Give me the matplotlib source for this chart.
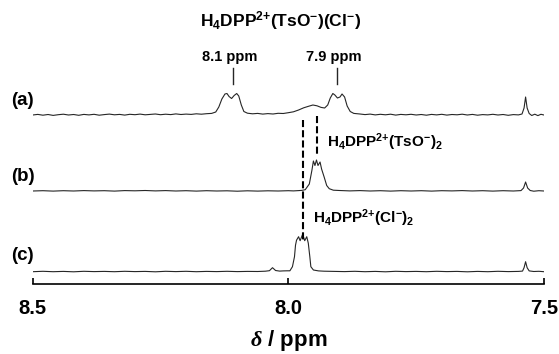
import matplotlib
matplotlib.use("Agg")
import matplotlib.pyplot as plt

plt.rcParams["font.family"] = ["Liberation Sans", "DejaVu Sans"]
plt.rcParams["font.weight"] = "bold"
plt.rcParams["mathtext.fontset"] = "custom"
plt.rcParams["mathtext.rm"] = "Liberation Sans:bold"
plt.rcParams["mathtext.bf"] = "Liberation Sans:bold"
plt.rcParams["mathtext.it"] = "Liberation Serif:italic:bold"
plt.rcParams["mathtext.default"] = "bf"

# spectrum (a): H4DPP2+(TsO-)(Cl-)
a_ppm = [8.500, 8.490, 8.480, 8.470, 8.460, 8.450, 8.440, 8.430, 8.420, 8.410,
         8.400, 8.390, 8.380, 8.370, 8.360, 8.350, 8.340, 8.330, 8.320, 8.310,
         8.300, 8.290, 8.280, 8.270, 8.260, 8.250, 8.240, 8.230, 8.220, 8.210,
         8.200, 8.190, 8.180, 8.170, 8.160, 8.150, 8.142, 8.136, 8.130, 8.124,
         8.120, 8.116, 8.111, 8.106, 8.101, 8.097, 8.092, 8.087, 8.080, 8.070,
         8.060, 8.050, 8.040, 8.030, 8.020, 8.010, 8.000, 7.990, 7.980, 7.970,
         7.960, 7.952, 7.944, 7.936, 7.929, 7.923, 7.918, 7.913, 7.909, 7.904,
         7.899, 7.895, 7.890, 7.885, 7.879, 7.872, 7.860, 7.850, 7.840, 7.830,
         7.820, 7.810, 7.800, 7.790, 7.780, 7.770, 7.760, 7.750, 7.740, 7.730,
         7.720, 7.710, 7.700, 7.690, 7.680, 7.670, 7.660, 7.650, 7.640, 7.630,
         7.620, 7.610, 7.600, 7.590, 7.580, 7.570, 7.560, 7.550, 7.543, 7.539,
         7.536, 7.533, 7.529, 7.524, 7.518, 7.512, 7.506, 7.500]
a_int = [0.0, 0.6, -0.2, 0.5, -0.4, 0.3, 0.8, 0.0, 0.5, -0.3,
         0.6, 0.1, 0.7, -0.2, 0.4, 0.9, 0.2, 0.6, -0.1, 0.7,
         0.3, 0.9, 0.2, 0.6, 1.0, 0.3, 0.8, 0.4, 1.1, 0.5,
         0.9, 0.6, 1.2, 0.8, 1.3, 1.6, 3.0, 8.0, 16.0, 21.0,
         21.5, 18.5, 16.5, 19.5, 21.5, 19.0, 10.0, 3.5, 1.8, 1.2,
         1.6, 0.9, 1.4, 1.0, 1.7, 1.5, 2.3, 3.2, 5.0, 7.2,
         8.8, 10.0, 9.2, 7.6, 7.0, 10.0, 17.0, 21.5, 20.0, 17.0,
         18.0, 21.0, 18.0, 9.0, 3.5, 1.6, 1.0, 0.4, 0.9, 0.1,
         0.7, 0.2, 0.8, -0.1, 0.6, 0.2, 0.7, 0.0, 0.5, -0.2,
         0.6, 0.1, 0.7, -0.1, 0.5, 0.2, 0.8, 0.0, 0.6, -0.2,
         0.4, 0.1, 0.7, 0.0, 0.5, -0.3, 0.4, 0.1, 1.0, 7.0,
         18.0, 7.0, 1.5, -0.5, 0.8, -0.6, 0.7, 0.0]

# spectrum (b): H4DPP2+(TsO-)2
b_ppm = [8.50, 8.48, 8.46, 8.44, 8.42, 8.40, 8.38, 8.36, 8.34, 8.32,
         8.30, 8.28, 8.26, 8.24, 8.22, 8.20, 8.18, 8.16, 8.14, 8.12,
         8.10, 8.08, 8.06, 8.04, 8.02, 8.00, 7.99, 7.98, 7.974, 7.967,
         7.959, 7.954, 7.951, 7.948, 7.945, 7.942, 7.938, 7.935, 7.930, 7.925,
         7.920, 7.912, 7.90, 7.88, 7.86, 7.84, 7.82, 7.80, 7.78, 7.76,
         7.74, 7.72, 7.70, 7.68, 7.66, 7.64, 7.62, 7.60, 7.58, 7.56,
         7.545, 7.540, 7.536, 7.532, 7.527, 7.52, 7.51, 7.50]
b_int = [0.0, 0.3, -0.1, 0.3, 0.0, 0.4, 0.1, 0.3, -0.1, 0.4,
         0.2, 0.5, 0.1, 0.4, 0.0, 0.3, -0.1, 0.3, 0.0, 0.2,
         -0.2, 0.2, -0.1, 0.2, 0.0, 0.3, 0.1, 0.4, 0.6, 1.3,
         7.0, 20.5, 30.0, 25.5, 31.0, 25.5, 29.0, 22.0, 14.0, 5.5,
         2.3, 0.8, 0.5, 0.1, 0.4, 0.0, 0.3, -0.1, 0.3, 0.0,
         0.3, -0.1, 0.3, 0.1, 0.4, 0.0, 0.3, -0.1, 0.3, 0.0,
         0.4, 3.0, 9.0, 3.0, 0.5, -0.2, 0.3, 0.0]

# spectrum (c): H4DPP2+(Cl-)2
c_ppm = [8.50, 8.48, 8.46, 8.44, 8.42, 8.40, 8.38, 8.36, 8.34, 8.32,
         8.30, 8.28, 8.26, 8.24, 8.22, 8.20, 8.18, 8.16, 8.14, 8.12,
         8.10, 8.08, 8.06, 8.045, 8.037, 8.031, 8.025, 8.017, 8.010, 8.002,
         7.997, 7.992, 7.988, 7.986, 7.984, 7.980, 7.977, 7.972, 7.968, 7.964,
         7.961, 7.958, 7.956, 7.951, 7.941, 7.93, 7.91, 7.89, 7.87, 7.85,
         7.83, 7.81, 7.79, 7.77, 7.75, 7.73, 7.71, 7.69, 7.67, 7.65,
         7.63, 7.61, 7.59, 7.57, 7.55, 7.542, 7.539, 7.536, 7.533, 7.529,
         7.52, 7.51, 7.50]
c_int = [0.0, 0.4, 0.0, 0.3, -0.1, 0.4, 0.1, 0.3, 0.0, 0.4,
         0.1, 0.3, -0.1, 0.4, 0.1, 0.4, 0.0, 0.3, 0.1, 0.4,
         0.1, 0.3, 0.2, 0.5, 1.0, 4.0, 1.2, 0.6, 0.8, 0.9,
         0.9, 5.0, 15.0, 26.5, 31.5, 35.0, 31.0, 37.5, 31.0, 35.0,
         28.5, 15.0, 5.0, 1.7, 0.8, 0.5, 0.3, 0.1, 0.4, 0.0,
         0.3, -0.1, 0.4, 0.1, 0.3, 0.0, 0.4, 0.1, 0.3, -0.1,
         0.3, 0.0, 0.4, 0.1, 0.3, 0.6, 4.0, 10.0, 4.0, 0.8,
         0.2, 0.4, 0.0]

trace_labels = ["(a)", "(b)", "(c)"]
peak_marks = [8.108, 7.905]
peak_mark_labels = ["8.1 ppm", "7.9 ppm"]
dash_ppm = [7.972, 7.944]
x_ticks = [8.5, 8.0, 7.5]
tick_labels = ["8.5", "8.0", "7.5"]

fig = plt.figure(figsize=(5.59, 3.54), dpi=100)
W, H = 559, 354
# axes spans x pixels 32.7..544 and y pixels 0..284, y in px units
ax = fig.add_axes([32.7 / W, (H - 284) / H, (544 - 32.7) / W, 284 / H])
ax.set_xlim(8.5, 7.5)
ax.set_ylim(0, 284)

offsets = [169, 93, 12.3]
line_kw = dict(color="#262626", lw=0.8)
for ppm, inten, off in zip([a_ppm, b_ppm, c_ppm], [a_int, b_int, c_int], offsets):
    ax.plot(ppm, [v + off for v in inten], **line_kw)

for lab, ypix in zip(trace_labels, [100, 176, 256]):
    fig.text(11 / W, 1 - ypix / H, lab, fontsize=13.5, fontweight="bold", va="center")

# peak markers in (a)
for p, lab in zip(peak_marks, peak_mark_labels):
    ax.plot([p, p], [284 - 68, 284 - 84], color="#262626", lw=1.0)
    ax.text(p + 0.006, 284 - 57, lab, fontsize=10.5, ha="center", va="center")

ax.text(8.016, 284 - 21, r"$H_4DPP^{2{+}}(TsO^{-})(Cl^{-})$", fontsize=12.5,
        ha="center", va="center")

# dashed guides
ax.plot([dash_ppm[0]] * 2, [284 - 120, 284 - 240], color="black", lw=1.5,
        dashes=(3.4, 1.5))
ax.plot([dash_ppm[1]] * 2, [284 - 116, 284 - 155], color="black", lw=1.5,
        dashes=(3.4, 1.5))

ax.text(7.925, 284 - 142, r"$H_4DPP^{2{+}}(TsO^{-})_2$", fontsize=11, va="center")
ax.text(7.952, 284 - 218, r"$H_4DPP^{2{+}}(Cl^{-})_2$", fontsize=11, va="center")

for s in ["top", "left", "right"]:
    ax.spines[s].set_visible(False)
ax.spines["bottom"].set_linewidth(1.2)
ax.set_yticks([])
ax.set_xticks(x_ticks)
ax.set_xticklabels(tick_labels, fontsize=14.5, fontweight="bold")
ax.tick_params(axis="x", direction="in", length=4, width=1.2, pad=11)
ax.set_xlabel(r"$\mathit{\delta}$ / ppm", fontsize=16, fontweight="bold", labelpad=7)

fig.savefig("out.png", dpi=100)
